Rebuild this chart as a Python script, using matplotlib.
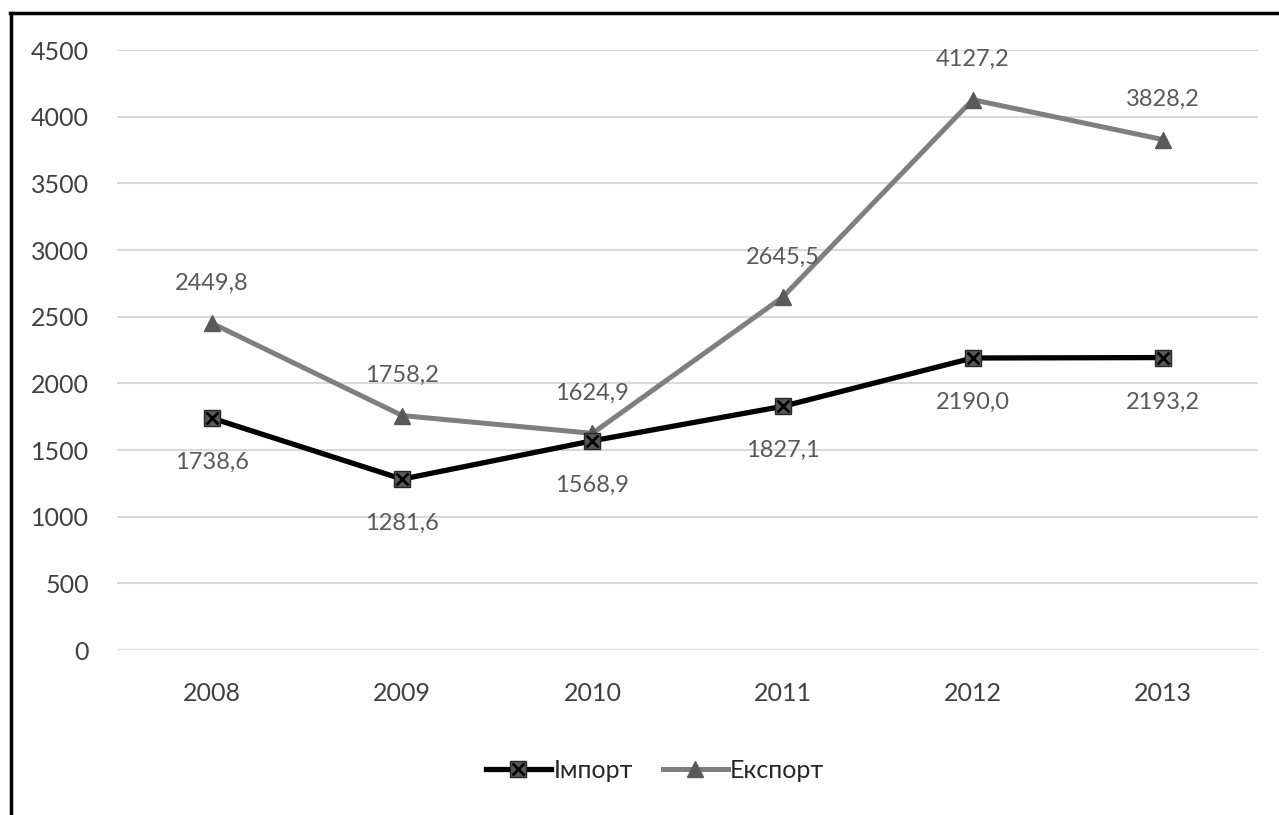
import numpy as np
import matplotlib.pyplot as plt
from matplotlib.lines import Line2D
from matplotlib.legend_handler import HandlerTuple

plt.rcParams['font.family'] = ['Lato', 'DejaVu Sans']

# import / export by year
years = ['2008', '2009', '2010', '2011', '2012', '2013']
imports = [1738.6, 1281.6, 1568.9, 1827.1, 2190.0, 2193.2]
exports = [2449.8, 1758.2, 1624.9, 2645.5, 4127.2, 3828.2]

x = np.arange(len(years))
label_col = '#595959'

fig = plt.figure(figsize=(12.79, 8.15), dpi=100)
ax = fig.add_axes([117 / 1279, 165 / 815, 1141 / 1279, 600 / 815])

ax.plot(x, exports, color='#7f7f7f', lw=3.6, zorder=2)
ax.plot(x, exports, ls='none', marker='^', ms=12, color='#595959', zorder=3)
ax.plot(x, imports, color='black', lw=3.8, zorder=4)
ax.plot(x, imports, ls='none', marker='s', ms=11, mfc='#595959', mec='#262626', zorder=5)
ax.plot(x, imports, ls='none', marker='x', ms=9, mew=2, color='black', zorder=6)

def fmt(v):
    return f'{v:.1f}'.replace('.', ',')

for xi, v in zip(x, exports):
    ax.annotate(fmt(v), (xi, v), xytext=(0, 29), textcoords='offset points',
                ha='center', va='center', fontsize=17, color=label_col)
for xi, v in zip(x, imports):
    ax.annotate(fmt(v), (xi, v), xytext=(0, -32), textcoords='offset points',
                ha='center', va='center', fontsize=17, color=label_col)

ax.set_xlim(-0.5, 5.5)
ax.set_ylim(0, 4500)
ax.set_yticks(range(0, 4501, 500))
ax.set_xticks(x)
ax.set_xticklabels(years)
ax.yaxis.grid(True, color='#d9d9d9', lw=1.5)
ax.set_axisbelow(True)
for s in ax.spines.values():
    s.set_visible(False)
ax.tick_params(length=0, labelsize=18, labelcolor='#404040')
ax.tick_params(axis='y', pad=20)
ax.tick_params(axis='x', pad=23)

# legend: line with the square + x marker drawn on top of it
h_imp = (Line2D([], [], color='black', lw=3.8),
         Line2D([], [], ls='none', marker='s', ms=11, mfc='#595959', mec='#262626'),
         Line2D([], [], ls='none', marker='x', ms=9, mew=2, color='black'))
h_exp = (Line2D([], [], color='#7f7f7f', lw=3.6),
         Line2D([], [], ls='none', marker='^', ms=12, color='#595959'))
fig.legend([h_imp, h_exp], ['Імпорт', 'Експорт'],
           handler_map={tuple: HandlerTuple(ndivide=1, pad=0)},
           loc='center', bbox_to_anchor=(655 / 1279, 1 - 770 / 815),
           ncol=2, frameon=False, fontsize=18, handlelength=2.6,
           handletextpad=0.1, columnspacing=1.2, labelcolor='#262626')

# frame lines along top and left edge
fig.add_artist(Line2D([10 / 1279, 1], [1 - 13 / 815, 1 - 13 / 815], color='black', lw=2.5))
fig.add_artist(Line2D([11 / 1279, 11 / 1279], [0, 1 - 13 / 815], color='black', lw=2.5))

fig.savefig('out.png', dpi=100, facecolor='white')
